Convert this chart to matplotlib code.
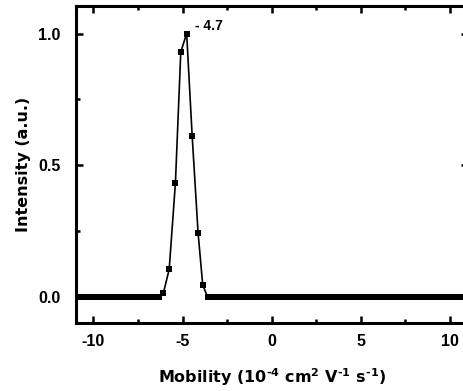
import matplotlib
matplotlib.use("Agg")
import matplotlib.pyplot as plt
from matplotlib.ticker import MultipleLocator
import numpy as np

plt.rcParams['font.family'] = ['Liberation Sans', 'DejaVu Sans']
plt.rcParams['font.weight'] = 'bold'
plt.rcParams['axes.unicode_minus'] = False
plt.rcParams['mathtext.fontset'] = 'custom'
plt.rcParams['mathtext.rm'] = 'DejaVu Sans:bold'
plt.rcParams['mathtext.bf'] = 'DejaVu Sans:bold'
plt.rcParams['mathtext.default'] = 'bf'

# peak points
peak_x = [-6.08, -5.75, -5.40, -5.10, -4.77, -4.46, -4.13, -3.87]
peak_y = [0.014, 0.105, 0.434, 0.93, 1.0, 0.61, 0.244, 0.047]

# flat baseline sampled densely (zero intensity)
step = 0.2
left_x = np.arange(-10.9, -6.25, step)
right_x = np.arange(-3.6, 11.2, step)

x = np.concatenate([left_x, peak_x, right_x])
y = np.concatenate([np.zeros(len(left_x)), peak_y, np.zeros(len(right_x))])

fig = plt.figure(figsize=(4.64, 3.91), dpi=100)
ax = fig.add_axes([0.163, 0.173, 0.845, 0.812])

ax.plot(x, y, color='black', lw=1.2, marker='s', ms=4.8, mew=0, mfc='black')
ax.text(-4.3, 1.03, '- 4.7', fontsize=10, fontweight='bold', va='center')

ax.set_xlim(-11, 11)
ax.set_ylim(-0.1, 1.105)
ax.xaxis.set_major_locator(MultipleLocator(5))
ax.xaxis.set_minor_locator(MultipleLocator(2.5))
ax.yaxis.set_major_locator(MultipleLocator(0.5))
ax.yaxis.set_minor_locator(MultipleLocator(0.25))
ax.tick_params(which='both', direction='in', top=True, right=True, width=1.8)
ax.tick_params(which='major', length=5, labelsize=11.5)
ax.tick_params(axis='x', which='major', pad=8)
ax.tick_params(axis='y', which='major', pad=11)
ax.tick_params(which='minor', length=3)
for lbl in ax.get_xticklabels() + ax.get_yticklabels():
    lbl.set_fontweight('bold')
for s in ax.spines.values():
    s.set_linewidth(2.2)

hy = '\u2010'
ax.set_xlabel('Mobility (10$^{' + hy + '4}$ cm$^{2}$ V$^{' + hy + '1}$ s$^{' + hy + '1}$)',
              family='DejaVu Sans', fontsize=11.5, fontweight='bold', labelpad=12)
ax.set_ylabel('Intensity (a.u.)', family='DejaVu Sans', fontsize=11.5,
              fontweight='bold', labelpad=5)

fig.savefig('out.png', dpi=100)
